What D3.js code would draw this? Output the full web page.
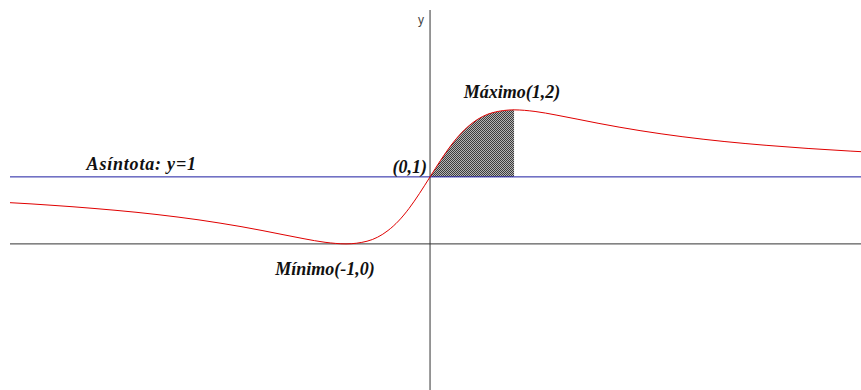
<!DOCTYPE html>
<meta charset="utf-8">
<style>
body { margin: 0; background: #fff; }
.label {
  font-family: "Liberation Serif", "Times New Roman", serif;
  font-style: italic;
  font-weight: bold;
  font-size: 18px;
  fill: #111;
}
</style>
<div id="graph"></div>
<script src="https://d3js.org/d3.v7.min.js"></script>
<script>
  var width = 861, height = 390;

  // points (x, y)
  var xs = [-5, -4.75, -4.5, -4.25, -4, -3.75, -3.5, -3.25, -3, -2.75, -2.5, -2.25,
            -2, -1.75, -1.5, -1.25, -1, -0.75, -0.5, -0.375, -0.25, -0.125,
            0, 0.125, 0.25, 0.375, 0.5, 0.75, 1, 1.25, 1.5, 1.75, 2, 2.5,
            3, 3.5, 4, 4.5, 5, 5.25];
  var ys = [0.615, 0.597, 0.576, 0.554, 0.529, 0.502, 0.472, 0.438, 0.4, 0.358, 0.31, 0.258,
            0.2, 0.138, 0.077, 0.024, 0, 0.04, 0.2, 0.342, 0.529, 0.754,
            1, 1.246, 1.471, 1.658, 1.8, 1.96, 2, 1.976, 1.923, 1.862, 1.8, 1.69,
            1.6, 1.528, 1.471, 1.424, 1.385, 1.368];

  var asymptote = 1;
  var shadeFrom = 0, shadeTo = 1;

  var labels = [
    { text: "Máximo(1,2)", x: 1, y: 2, dx: -2, dy: -12, anchor: "middle", ls: 0 },
    { text: "Mínimo(-1,0)", x: -1, y: 0, dx: -21, dy: 31, anchor: "middle", ls: 0 },
    { text: "(0,1)", x: 0, y: 1, dx: -3, dy: -4, anchor: "end", ls: 0 },
    { text: "Asíntota: y=1", x: -4.1, y: 1, dx: 1, dy: -7, anchor: "start", ls: 0.8 }
  ];

  var points = xs.map(function(x, i) { return { x: x, y: ys[i] }; });

  var xScale = d3.scaleLinear().domain([-5, 5.13]).range([10, width]);
  var yScale = d3.scaleLinear().domain([-2.18, 3.49]).range([height, 10]);

  var svg = d3.select("#graph")
    .append("svg")
    .attr("width", width)
    .attr("height", height);

  var defs = svg.append("defs");
  var pat = defs.append("pattern")
    .attr("id", "checker")
    .attr("width", 2)
    .attr("height", 2)
    .attr("patternUnits", "userSpaceOnUse");
  pat.append("rect").attr("width", 2).attr("height", 2).attr("fill", "#b4b4b4");
  pat.append("rect").attr("width", 1).attr("height", 1).attr("fill", "#3c3c3c");
  pat.append("rect").attr("x", 1).attr("y", 1).attr("width", 1).attr("height", 1).attr("fill", "#3c3c3c");

  // shaded region between asymptote and curve
  var shade = points.filter(function(d) { return d.x >= shadeFrom && d.x <= shadeTo; });
  var area = d3.area()
    .x(function(d) { return xScale(d.x); })
    .y0(yScale(asymptote))
    .y1(function(d) { return yScale(d.y); })
    .curve(d3.curveMonotoneX);

  svg.append("path")
    .datum(shade)
    .attr("d", area)
    .attr("fill", "url(#checker)");

  // axes
  svg.append("line")
    .attr("x1", xScale(-5)).attr("x2", width)
    .attr("y1", yScale(0)).attr("y2", yScale(0))
    .attr("stroke", "#333").attr("stroke-width", 1);

  svg.append("line")
    .attr("x1", xScale(0)).attr("x2", xScale(0))
    .attr("y1", yScale(3.49)).attr("y2", height)
    .attr("stroke", "#333").attr("stroke-width", 1);

  svg.append("text")
    .attr("x", xScale(0) - 12)
    .attr("y", 24)
    .attr("font-family", "Liberation Sans, Arial, sans-serif")
    .attr("font-size", 12)
    .attr("fill", "#444")
    .text("y");

  // asymptote
  svg.append("line")
    .attr("x1", xScale(-5)).attr("x2", width)
    .attr("y1", yScale(asymptote)).attr("y2", yScale(asymptote))
    .attr("stroke", "#1c1ca0").attr("stroke-width", 1);

  // curve
  var line = d3.line()
    .x(function(d) { return xScale(d.x); })
    .y(function(d) { return yScale(d.y); })
    .curve(d3.curveMonotoneX);

  svg.append("path")
    .datum(points)
    .attr("d", line)
    .attr("fill", "none")
    .attr("stroke", "#e00000")
    .attr("stroke-width", 1);

  svg.selectAll(".label")
    .data(labels)
    .enter()
    .append("text")
    .attr("class", "label")
    .attr("x", function(d) { return xScale(d.x) + d.dx; })
    .attr("y", function(d) { return yScale(d.y) + d.dy; })
    .attr("text-anchor", function(d) { return d.anchor; })
    .attr("letter-spacing", function(d) { return d.ls; })
    .text(function(d) { return d.text; });
</script>
